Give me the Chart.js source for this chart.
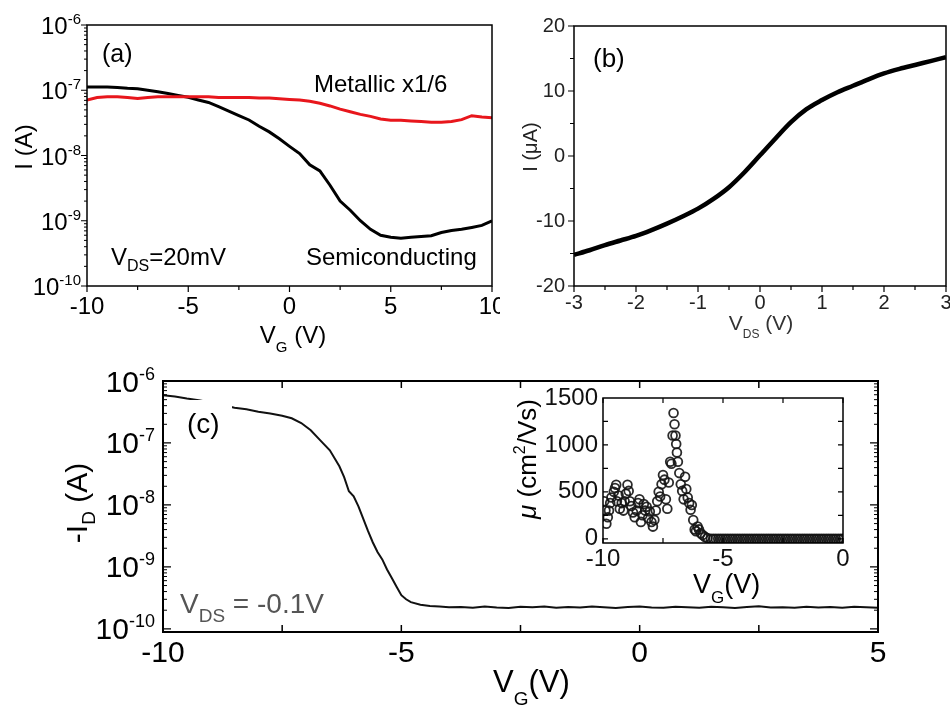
<!DOCTYPE html>
<html><head><meta charset="utf-8">
<script src="https://cdn.jsdelivr.net/npm/chart.js@4.4.1/dist/chart.umd.min.js"></script>
<style>
body{margin:0;background:#fff;}
#wrap{position:relative;width:950px;height:709px;overflow:hidden;background:#fff;}
canvas{position:absolute;}
</style></head><body>
<div id="wrap">
<canvas id="ca" style="left:0;top:0;width:500px;height:360px" width="500" height="360"></canvas>
<canvas id="cb" style="left:500px;top:0;width:450px;height:360px" width="450" height="360"></canvas>
<canvas id="cc" style="left:0;top:360px;width:950px;height:349px" width="950" height="349"></canvas>
<canvas id="ci" style="left:510px;top:380px;width:345px;height:230px" width="345" height="230"></canvas>
</div>
<script>
// ---------- DATA ----------
// (a) I vs V_G, V_DS = 20 mV
const vgA = [-10,-9.5,-9,-8.5,-8,-7.5,-7,-6.5,-6,-5.5,-5,-4.5,-4,-3.5,-3,-2.5,-2,-1.5,-1,-0.5,0,0.5,1,1.5,2,2.5,3,3.5,4,4.5,5,5.5,6,6.5,7,7.5,8,8.5,9,9.5,10];
const semiA = [1.12e-7,1.12e-7,1.12e-7,1.10e-7,1.07e-7,1.05e-7,1.00e-7,9.5e-8,8.9e-8,8.3e-8,7.8e-8,7.1e-8,6.5e-8,5.6e-8,4.8e-8,4.1e-8,3.5e-8,2.8e-8,2.3e-8,1.8e-8,1.38e-8,1.07e-8,7.2e-9,5.8e-9,3.5e-9,2.0e-9,1.45e-9,1.0e-9,7.4e-10,6.0e-10,5.6e-10,5.4e-10,5.6e-10,5.75e-10,5.9e-10,6.6e-10,7.1e-10,7.4e-10,7.9e-10,8.5e-10,1.0e-9];
const metalA = [7.08e-8,7.76e-8,7.94e-8,7.94e-8,7.76e-8,7.5e-8,7.76e-8,7.94e-8,7.94e-8,7.94e-8,7.94e-8,7.94e-8,7.94e-8,7.76e-8,7.76e-8,7.76e-8,7.76e-8,7.59e-8,7.59e-8,7.41e-8,7.24e-8,7.08e-8,6.76e-8,6.31e-8,5.75e-8,5.13e-8,4.68e-8,4.27e-8,3.98e-8,3.63e-8,3.47e-8,3.47e-8,3.39e-8,3.31e-8,3.24e-8,3.24e-8,3.31e-8,3.55e-8,4.07e-8,3.9e-8,3.8e-8];
const logExpA = [-6,-7,-8,-9,-10];

// (b) I (uA) vs V_DS
const vdsB = [-3,-2.75,-2.5,-2.25,-2,-1.75,-1.5,-1.25,-1,-0.75,-0.5,-0.25,0,0.25,0.5,0.75,1,1.25,1.5,1.75,2,2.25,2.5,2.75,3];
const iB = [-15.2,-14.5,-13.7,-13.0,-12.3,-11.4,-10.4,-9.3,-8.1,-6.6,-4.8,-2.5,0.1,2.7,5.2,7.2,8.6,9.8,10.8,11.8,12.7,13.4,14.0,14.6,15.2];

// (c) -I_D vs V_G, V_DS = -0.1 V
const vgC = [-10,-9.75,-9.5,-9.25,-9,-8.75,-8.5,-8.25,-8,-7.75,-7.5,-7.3,-7.1,-6.9,-6.7,-6.5,-6.3,-6.2,-6.1,-6.0,-5.9,-5.8,-5.7,-5.6,-5.5,-5.4,-5.3,-5.2,-5.1,-5.0,-4.9,-4.8,-4.6,-4.4,-4.2,-4.0,
  -3.75,-3.5,-3.25,-3,-2.75,-2.5,-2.25,-2,-1.75,-1.5,-1.25,-1,-0.75,-0.5,-0.25,0,0.25,0.5,0.75,1,1.25,1.5,1.75,2,2.25,2.5,2.75,3,3.25,3.5,3.75,4,4.25,4.5,4.75,5];
const idC = [5.9e-7,5.6e-7,5.2e-7,4.9e-7,4.5e-7,4.1e-7,3.7e-7,3.5e-7,3.2e-7,3.0e-7,2.75e-7,2.5e-7,2.1e-7,1.6e-7,1.1e-7,7.6e-8,4.2e-8,2.8e-8,1.66e-8,1.38e-8,9.5e-9,6.0e-9,3.8e-9,2.5e-9,1.74e-9,1.32e-9,9.1e-10,6.6e-10,4.8e-10,3.5e-10,3.0e-10,2.7e-10,2.45e-10,2.34e-10,2.29e-10,2.24e-10,
  2.25e-10,2.2e-10,2.3e-10,2.22e-10,2.18e-10,2.28e-10,2.24e-10,2.3e-10,2.2e-10,2.26e-10,2.21e-10,2.29e-10,2.23e-10,2.17e-10,2.25e-10,2.3e-10,2.22e-10,2.19e-10,2.27e-10,2.24e-10,2.2e-10,2.28e-10,2.23e-10,2.18e-10,2.26e-10,2.31e-10,2.21e-10,2.24e-10,2.19e-10,2.27e-10,2.22e-10,2.25e-10,2.2e-10,2.28e-10,2.23e-10,2.2e-10];
const logExpC = [-6,-7,-8,-9,-10];

// (c) inset: mobility vs V_G
const muX = [-9.95,-9.9,-9.86,-9.8,-9.75,-9.7,-9.65,-9.55,-9.5,-9.45,-9.42,-9.35,-9.3,-9.22,-9.15,-9.1,-9.05,-8.98,-8.93,-8.88,-8.82,-8.75,-8.68,-8.6,-8.54,-8.48,-8.42,-8.36,-8.3,-8.24,-8.18,-8.12,-8.05,-7.98,-7.92,-7.86,-7.8,-7.74,-7.68,-7.62,-7.56,-7.5,-7.44,-7.38,-7.32,-7.26,-7.2,-7.15,-7.1,-7.06,-7.02,-6.98,-6.95,-6.92,-6.88,-6.82,-6.76,-6.7,-6.64,-6.58,-6.53,-6.47,-6.41,-6.35,-6.3,-6.24,-6.18,-6.13,-6.06,-6.0,-5.93,-5.85,-5.75,-5.65,
  -5.5,-5.4,-5.3,-5.2,-5.1,-5.0,-4.9,-4.8,-4.7,-4.6,-4.5,-4.4,-4.3,-4.2,-4.1,-4.0,-3.9,-3.8,-3.7,-3.6,-3.5,-3.4,-3.3,-3.2,-3.1,-3.0,-2.9,-2.8,-2.7,-2.6,-2.5,-2.4,-2.3,-2.2,-2.1,-2.0,-1.9,-1.8,-1.7,-1.6,-1.5,-1.4,-1.3,-1.2,-1.1,-1.0,-0.9,-0.8,-0.7,-0.6,-0.5,-0.4,-0.3,-0.2,-0.1,0.0];
const muY = [400,300,160,230,300,380,440,500,540,575,400,460,320,380,300,400,480,575,510,400,350,280,230,300,380,420,180,250,370,300,340,220,290,180,130,200,300,400,500,450,580,680,630,420,320,600,820,800,1100,1340,1220,1100,1010,920,820,700,580,510,420,660,530,440,380,310,360,200,100,80,130,100,60,40,20,8,
  0,0,0,0,0,0,0,0,0,0,0,0,0,0,0,0,0,0,0,0,0,0,0,0,0,0,0,0,0,0,0,0,0,0,0,0,0,0,0,0,0,0,0,0,0,0,0,0,0,0,0,0,0,0,0,0];
const muTicks = [0,500,1000,1500];
const vgTicksInset = [-10,-5,0];

// ---------- HELPERS ----------
const FAM = '"Liberation Sans", Arial, Helvetica, sans-serif';
Chart.defaults.font.family = FAM;
function setFont(ctx, s, st){ ctx.font = (st ? st + ' ' : '') + s + 'px ' + FAM; }
function drawRich(ctx, parts, x, y, align, rot, color){
  ctx.save(); ctx.translate(x, y); if (rot) ctx.rotate(rot);
  ctx.fillStyle = color || '#000'; ctx.textBaseline = 'alphabetic'; ctx.textAlign = 'left';
  let w = 0;
  parts.forEach(p => { setFont(ctx, p.s, p.st); w += ctx.measureText(p.t).width; });
  let cx = align === 'center' ? -w/2 : (align === 'right' ? -w : 0);
  parts.forEach(p => { setFont(ctx, p.s, p.st); ctx.fillText(p.t, cx, p.dy || 0); cx += ctx.measureText(p.t).width; });
  ctx.restore();
}
function logMinor(lo, hi){ const r = []; for (let e = lo; e < hi; e++) for (let k = 2; k <= 9; k++) r.push(k * Math.pow(10, e)); return r; }
function steps(a, b, s){ const r = []; for (let v = a; v <= b + 1e-9; v += s) r.push(+v.toFixed(6)); return r; }
function zeroPad(s){ s.paddingLeft = 0; s.paddingRight = 0; s.paddingTop = 0; s.paddingBottom = 0; }

const deco = {
  id: 'deco',
  beforeDatasetsDraw(chart, args, o){
    if (o.fill){ const a = chart.chartArea; chart.ctx.save(); chart.ctx.fillStyle = '#fff';
      chart.ctx.fillRect(a.left, a.top, a.right - a.left, a.bottom - a.top); chart.ctx.restore(); }
  },
  afterDatasetsDraw(chart, args, o){
    const ctx = chart.ctx, a = chart.chartArea;
    ctx.save();
    (o.masks || []).forEach(m => { ctx.fillStyle = '#fff'; ctx.fillRect(m[0], m[1], m[2], m[3]); });
    ctx.strokeStyle = o.frameColor || '#000'; ctx.lineWidth = o.frameWidth || 1.5;
    ctx.strokeRect(a.left, a.top, a.right - a.left, a.bottom - a.top);
    (o.ticks || []).forEach(t => {
      const sc = chart.scales[t.scale];
      ctx.lineWidth = t.w || 1.2; ctx.beginPath();
      const out = t.dir === 'out' ? 1 : -1;
      t.values.forEach(v => {
        const p = sc.getPixelForValue(v);
        t.sides.forEach(s => {
          if (s === 'bottom'){ ctx.moveTo(p, a.bottom); ctx.lineTo(p, a.bottom + out * t.len); }
          if (s === 'top'){ ctx.moveTo(p, a.top); ctx.lineTo(p, a.top - out * t.len); }
          if (s === 'left'){ ctx.moveTo(a.left, p); ctx.lineTo(a.left - out * t.len, p); }
          if (s === 'right'){ ctx.moveTo(a.right, p); ctx.lineTo(a.right + out * t.len, p); }
        });
      });
      ctx.stroke();
    });
    if (o.logLabels){
      const L = o.logLabels, sc = chart.scales[L.scale];
      L.exps.forEach(e => {
        const p = sc.getPixelForValue(Math.pow(10, e));
        drawRich(ctx, [{t:'10', s:L.size}, {t:String(e), s:L.sup, dy:L.supDy}], a.left - L.gap, p + L.baseDy, 'right', 0, L.color);
      });
    }
    (o.texts || []).forEach(tx => drawRich(ctx, tx.parts, tx.x, tx.y, tx.align || 'left', tx.rot || 0, tx.color));
    ctx.restore();
  }
};
const base = { responsive:false, animation:false, events:[], plugins:{ legend:{display:false}, tooltip:{enabled:false} } };
const noGrid = { display:false, drawTicks:false };
const pts = (xs, ys) => xs.map((x, i) => ({x, y: ys[i]}));

// ---------- (a) ----------
new Chart(document.getElementById('ca'), {
  type:'line',
  data:{ datasets:[
    { data: pts(vgA, metalA), borderColor:'#e8161c', borderWidth:3, pointRadius:0, tension:0 },
    { data: pts(vgA, semiA), borderColor:'#000', borderWidth:3, pointRadius:0, tension:0 }
  ]},
  options: Object.assign({}, base, {
    layout:{ padding:{left:0, right:8, top:25, bottom:0}, autoPadding:false },
    plugins: Object.assign({}, base.plugins, { deco:{
      frameWidth:1.5,
      ticks:[
        {scale:'x', values: steps(-10, 10, 5), sides:['bottom'], dir:'out', len:6},
        {scale:'x', values: steps(-7.5, 7.5, 5), sides:['bottom'], dir:'out', len:4},
        {scale:'y', values: logExpA.map(e => Math.pow(10, e)), sides:['left'], dir:'out', len:6},
        {scale:'y', values: logMinor(-10, -6), sides:['left'], dir:'out', len:3, w:1}
      ],
      logLabels:{ scale:'y', exps: logExpA, size:24, sup:15, supDy:-10, baseDy:9, gap:6, color:'#000' },
      texts:[
        {parts:[{t:'(a)', s:25}], x:102, y:62},
        {parts:[{t:'Metallic x1/6', s:24}], x:314, y:92},
        {parts:[{t:'Semiconducting', s:24}], x:306, y:265},
        {parts:[{t:'V', s:24}, {t:'DS', s:16, dy:6}, {t:'=20mV', s:24}], x:111, y:265},
        {parts:[{t:'I (A)', s:24}], x:32, y:147, align:'center', rot:-Math.PI/2},
        {parts:[{t:'V', s:24}, {t:'G', s:15, dy:9}, {t:' (V)', s:24}], x:293, y:343, align:'center'}
      ]
    }}),
    scales:{
      x:{ type:'linear', min:-10, max:10, grid:noGrid, border:{display:false},
          ticks:{ stepSize:2.5, autoSkip:false, maxRotation:0, padding:7, color:'#000', font:{size:24},
                  callback: v => (v % 5 === 0 ? String(v) : '') },
          afterFit: s => { s.height = 74; zeroPad(s); } },
      y:{ type:'logarithmic', min:1e-10, max:1e-6, grid:noGrid, border:{display:false}, ticks:{display:false},
          afterFit: s => { s.width = 87; zeroPad(s); } }
    }
  }),
  plugins:[deco]
});

// ---------- (b) ----------
new Chart(document.getElementById('cb'), {
  type:'line',
  data:{ datasets:[ { data: pts(vdsB, iB), borderColor:'#000', borderWidth:4.5, pointRadius:0, tension:0.4, cubicInterpolationMode:'monotone' } ]},
  options: Object.assign({}, base, {
    layout:{ padding:{left:0, right:4, top:26, bottom:0}, autoPadding:false },
    plugins: Object.assign({}, base.plugins, { deco:{
      frameWidth:1.5,
      ticks:[
        {scale:'x', values: steps(-3, 3, 1), sides:['bottom'], dir:'out', len:6},
        {scale:'x', values: steps(-2.5, 2.5, 1), sides:['bottom'], dir:'out', len:4},
        {scale:'y', values: steps(-20, 20, 10), sides:['left'], dir:'out', len:6},
        {scale:'y', values: steps(-15, 15, 10), sides:['left'], dir:'out', len:4}
      ],
      texts:[
        {parts:[{t:'(b)', s:26}], x:93, y:67},
        {parts:[{t:'I (\u03bcA)', s:20}], x:37, y:147, align:'center', rot:-Math.PI/2, color:'#222'},
        {parts:[{t:'V', s:21}, {t:'DS', s:12, dy:8}, {t:' (V)', s:21}], x:261, y:330, align:'center', color:'#333'}
      ]
    }}),
    scales:{
      x:{ type:'linear', min:-3, max:3, grid:noGrid, border:{display:false},
          ticks:{ stepSize:1, autoSkip:false, maxRotation:0, padding:5, color:'#222', font:{size:20} },
          afterFit: s => { s.height = 74; zeroPad(s); } },
      y:{ type:'linear', min:-20, max:20, grid:noGrid, border:{display:false},
          ticks:{ stepSize:10, padding:9, color:'#222', font:{size:20} },
          afterFit: s => { s.width = 74; zeroPad(s); } }
    }
  }),
  plugins:[deco]
});

// ---------- (c) ----------
new Chart(document.getElementById('cc'), {
  type:'line',
  data:{ datasets:[ { data: pts(vgC, idC), borderColor:'#111', borderWidth:2, pointRadius:0, tension:0 } ]},
  options: Object.assign({}, base, {
    layout:{ padding:{left:0, right:72, top:21, bottom:0}, autoPadding:false },
    plugins: Object.assign({}, base.plugins, { deco:{
      frameWidth:2,
      masks:[[182, 40, 50, 45]],
      ticks:[
        {scale:'x', values: steps(-10, 5, 2.5), sides:['bottom','top'], dir:'in', len:7, w:1.5},
        {scale:'y', values: logExpC.map(e => Math.pow(10, e)), sides:['left','right'], dir:'in', len:8, w:1.3},
        {scale:'y', values: logMinor(-11, -6).filter(v => v >= 8.9e-11), sides:['left','right'], dir:'in', len:4, w:1}
      ],
      logLabels:{ scale:'y', exps: logExpC, size:30, sup:18, supDy:-12, baseDy:10.5, gap:8, color:'#000' },
      texts:[
        {parts:[{t:'(c)', s:28}], x:187, y:73},
        {parts:[{t:'V', s:28}, {t:'DS', s:19, dy:9}, {t:' = -0.1V', s:28}], x:180, y:253, color:'#555'},
        {parts:[{t:'-I', s:30}, {t:'D', s:19, dy:8}, {t:' (A)', s:30}], x:87, y:143, align:'center', rot:-Math.PI/2},
        {parts:[{t:'V', s:31}, {t:'G', s:19, dy:13}, {t:'(V)', s:31}], x:493, y:332}
      ]
    }}),
    scales:{
      x:{ type:'linear', min:-10, max:5, grid:noGrid, border:{display:false},
          ticks:{ stepSize:2.5, autoSkip:false, maxRotation:0, padding:4, color:'#000', font:{size:30},
                  callback: v => (v % 5 === 0 ? String(v) : '') },
          afterFit: s => { s.height = 77; zeroPad(s); } },
      y:{ type:'logarithmic', min:8.9e-11, max:1e-6, grid:noGrid, border:{display:false}, ticks:{display:false},
          afterFit: s => { s.width = 163; zeroPad(s); } }
    }
  }),
  plugins:[deco]
});

// ---------- (c) inset ----------
new Chart(document.getElementById('ci'), {
  type:'scatter',
  data:{ datasets:[ { data: pts(muX, muY), showLine:false, pointStyle:'circle', pointRadius:4.4,
                      borderColor:'rgba(20,20,20,0.9)', borderWidth:1.8, backgroundColor:'rgba(255,255,255,0)' } ]},
  options: Object.assign({}, base, {
    layout:{ padding:{left:0, right:12, top:18, bottom:0}, autoPadding:false },
    plugins: Object.assign({}, base.plugins, { deco:{
      fill:true, frameWidth:1.5,
      ticks:[
        {scale:'x', values: steps(-10, 0, 2.5), sides:['bottom','top'], dir:'in', len:5},
        {scale:'y', values: steps(0, 1250, 250), sides:['left','right'], dir:'in', len:5}
      ],
      texts:[
        {parts:[{t:'\u03bc', s:26, st:'italic'}, {t:' (cm', s:26}, {t:'2', s:16, dy:-11}, {t:'/Vs)', s:26}], x:26, y:79, align:'center', rot:-Math.PI/2},
        {parts:[{t:'V', s:27}, {t:'G', s:17, dy:10}, {t:'(V)', s:27}], x:183, y:213}
      ]
    }}),
    scales:{
      x:{ type:'linear', min:-10, max:0, grid:noGrid, border:{display:false},
          afterBuildTicks: s => { s.ticks = vgTicksInset.map(v => ({value: v})); },
          ticks:{ autoSkip:false, maxRotation:0, padding:2, color:'#111', font:{size:24}, callback: v => String(v) },
          afterFit: s => { s.height = 67; zeroPad(s); } },
      y:{ type:'linear', min:-45, max:1500, grid:noGrid, border:{display:false},
          afterBuildTicks: s => { s.ticks = muTicks.map(v => ({value: v})); },
          ticks:{ autoSkip:false, padding:5, color:'#111', font:{size:24}, callback: v => String(v) },
          afterFit: s => { s.width = 93; zeroPad(s); } }
    }
  }),
  plugins:[deco]
});
</script>
</body></html>
